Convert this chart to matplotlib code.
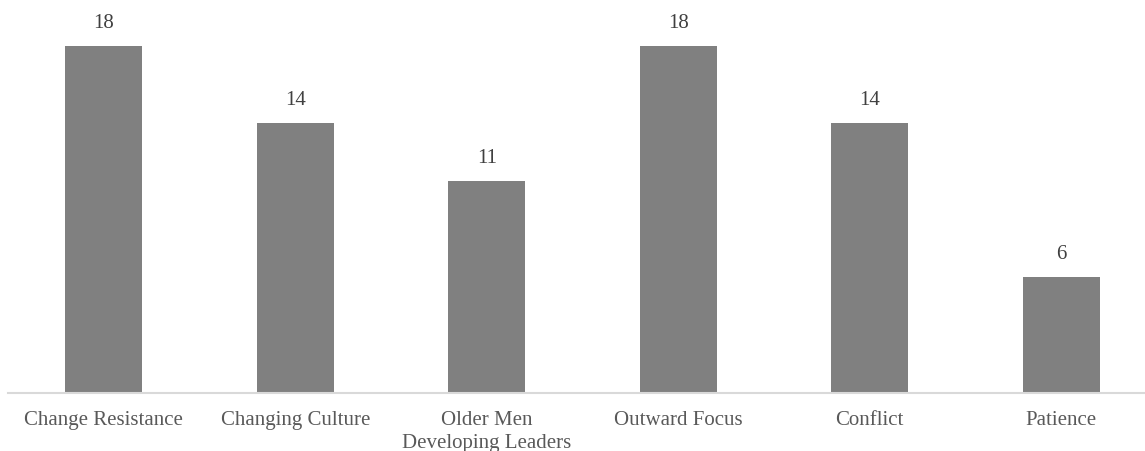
import matplotlib
matplotlib.use("Agg")
import matplotlib.pyplot as plt

categories = ["Change Resistance", "Changing Culture", "Older Men\nDeveloping Leaders",
              "Outward Focus", "Conflict", "Patience"]
values = [18, 14, 11, 18, 14, 6]

W, H = 1145, 451
fig = plt.figure(figsize=(W / 100, H / 100), dpi=100)
left_px, base_px = 8, 392.5
ax = fig.add_axes([left_px / W, (H - base_px) / H, (W - left_px) / W, base_px / H])

x = list(range(len(categories)))
ax.bar(x, values, width=0.4, color="#808080", zorder=2)
spacing = 191.5
ax.set_xlim(-0.5, -0.5 + (W - left_px) / spacing)
ax.set_ylim(0, base_px / 19.27)

for xi, v in zip(x, values):
    ax.annotate(str(v), (xi, v), xytext=(0, 16), textcoords="offset points",
                ha="center", va="center", fontsize=15, family="Liberation Serif",
                color="#404040")

ax.set_xticks(x)
ax.set_xticklabels(categories, family="Liberation Serif", fontsize=15, color="#595959",
                   linespacing=1.3, va="top")
ax.tick_params(axis="x", length=0, pad=13)
ax.set_yticks([])
for s in ["top", "right", "left"]:
    ax.spines[s].set_visible(False)
ax.spines["bottom"].set_color("#d9d9d9")
ax.spines["bottom"].set_linewidth(1.5)

fig.savefig("out.png", dpi=100)
